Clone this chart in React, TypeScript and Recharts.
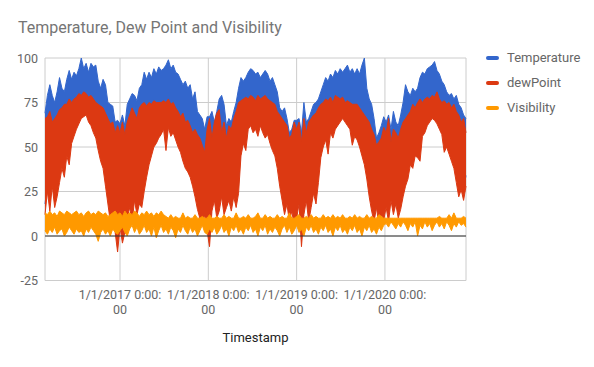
import { Area, CartesianGrid, ComposedChart, ReferenceLine, XAxis, YAxis } from "recharts";

// one sample every 10 days, starting 26 Feb 2016
const START = Date.UTC(2016, 1, 26);
const STEP = 10 * 24 * 3600 * 1000;

const yearTicks = [Date.UTC(2017, 0, 1), Date.UTC(2018, 0, 1), Date.UTC(2019, 0, 1), Date.UTC(2020, 0, 1)];
const yTicks = [-25, 0, 25, 50, 75, 100];

const tempHigh = [
  69, 79, 85, 79, 75, 81, 89, 83, 81, 88,
  93, 88, 92, 90, 94, 100, 94, 97, 92, 97,
  95, 96, 87, 83, 88, 85, 75, 74, 73, 64,
  65, 63, 68, 62, 74, 77, 80, 79, 76, 83,
  85, 92, 88, 92, 89, 94, 91, 95, 93, 94,
  96, 99, 94, 96, 92, 91, 88, 85, 87, 83,
  85, 77, 81, 70, 68, 66, 60, 67, 67, 70,
  64, 70, 77, 79, 74, 62, 66, 64, 70, 75,
  83, 89, 87, 89, 92, 94, 93, 91, 92, 89,
  91, 93, 91, 87, 89, 85, 81, 72, 70, 72,
  66, 58, 60, 65, 65, 66, 58, 75, 64, 66,
  70, 74, 75, 77, 81, 85, 89, 87, 91, 89,
  93, 91, 94, 92, 94, 96, 92, 94, 91, 94,
  91, 96, 100, 83, 77, 74, 66, 55, 58, 62,
  67, 64, 68, 60, 70, 64, 62, 68, 75, 85,
  81, 79, 83, 81, 83, 89, 92, 91, 94, 95,
  96, 98, 93, 91, 87, 85, 81, 79, 80, 77,
  79, 74, 72, 68, 66,
];

const tempLow = [
  18, 30, 20, 34, 22, 28, 36, 44, 40, 50,
  46, 57, 62, 65, 68, 70, 72, 72, 69, 67,
  63, 60, 54, 48, 44, 34, 24, 14, 18, 8,
  -3, 11, 2, 8, 16, 22, 14, 26, 18, 24,
  22, 31, 39, 46, 51, 55, 57, 60, 62, 65,
  54, 66, 61, 63, 59, 55, 52, 48, 44, 42,
  39, 34, 28, 21, 16, 12, 18, 9, 0, 20,
  26, 16, 20, 28, 18, 22, 26, 20, 28, 22,
  30, 51, 57, 54, 65, 67, 63, 65, 61, 67,
  63, 60, 62, 57, 53, 50, 44, 34, 26, 18,
  24, 14, 20, 12, 16, 24, 0, 18, 26, 14,
  22, 30, 24, 36, 50, 55, 59, 52, 63, 60,
  65, 67, 69, 71, 69, 67, 65, 57, 61, 59,
  55, 50, 46, 38, 28, 20, 14, 22, 12, 18,
  15, 22, 14, 26, 18, 24, 16, 21, 28, 34,
  38, 46, 44, 51, 50, 48, 61, 63, 67, 69,
  71, 70, 68, 65, 62, 53, 56, 52, 48, 44,
  36, 28, 32, 26, 34,
];

const dewHigh = [
  66, 67, 70, 64, 66, 68, 71, 72, 74, 74,
  77, 75, 77, 78, 80, 79, 81, 80, 78, 79,
  77, 75, 74, 73, 72, 69, 66, 63, 64, 58,
  62, 58, 64, 57, 64, 68, 72, 69, 66, 72,
  74, 75, 73, 75, 74, 76, 75, 75, 75, 76,
  75, 77, 74, 75, 72, 70, 67, 69, 64, 65,
  62, 58, 60, 57, 55, 51, 47, 60, 66, 55,
  64, 69, 71, 58, 64, 55, 62, 60, 66, 70,
  75, 76, 77, 78, 77, 79, 78, 76, 79, 77,
  78, 79, 77, 76, 75, 74, 70, 68, 66, 64,
  62, 55, 57, 64, 60, 64, 53, 66, 58, 64,
  66, 68, 69, 72, 74, 75, 77, 76, 78, 75,
  79, 78, 77, 78, 75, 76, 75, 74, 74, 74,
  72, 70, 68, 66, 64, 60, 57, 51, 53, 55,
  61, 58, 66, 53, 60, 58, 55, 60, 64, 66,
  68, 70, 74, 72, 75, 77, 75, 77, 78, 77,
  79, 78, 81, 77, 75, 76, 74, 75, 72, 74,
  70, 68, 64, 66, 58,
];

const dewLow = [
  12, 25, 14, 28, 16, 22, 30, 38, 33, 45,
  40, 52, 56, 60, 63, 66, 67, 68, 64, 62,
  58, 55, 48, 42, 38, 28, 18, 8, 12, 2,
  -9, 5, -4, 2, 10, 16, 8, 20, 12, 18,
  16, 25, 33, 40, 45, 50, 52, 55, 57, 60,
  48, 61, 56, 58, 54, 50, 47, 42, 38, 36,
  33, 28, 22, 15, 10, 6, 12, 3, -6, 14,
  20, 10, 14, 22, 12, 16, 20, 14, 22, 16,
  24, 45, 52, 48, 60, 62, 58, 60, 56, 62,
  58, 55, 57, 52, 48, 45, 38, 28, 20, 12,
  18, 8, 14, 6, 10, 18, -6, 12, 20, 8,
  16, 24, 18, 30, 44, 50, 54, 46, 58, 55,
  60, 62, 64, 66, 64, 62, 60, 51, 56, 54,
  50, 45, 40, 32, 22, 14, 8, 16, 6, 12,
  9, 16, 8, 20, 12, 18, 10, 15, 22, 28,
  32, 40, 38, 45, 44, 42, 56, 58, 62, 64,
  66, 65, 63, 60, 57, 47, 50, 46, 42, 38,
  30, 22, 26, 20, 28,
];

const visHigh = [
  13, 12, 14, 12, 13, 11, 14, 13, 12, 14,
  13, 12, 13, 14, 12, 13, 11, 13, 14, 12,
  13, 12, 14, 13, 12, 13, 11, 12, 13, 14,
  12, 13, 11, 14, 12, 13, 12, 14, 13, 11,
  13, 12, 14, 12, 13, 11, 13, 12, 14, 12,
  11, 10, 12, 10, 11, 10, 10, 13, 10, 11,
  10, 10, 12, 10, 10, 11, 10, 10, 12, 10,
  10, 11, 10, 10, 12, 10, 11, 10, 10, 13,
  10, 10, 11, 10, 12, 10, 10, 11, 13, 10,
  10, 12, 10, 11, 10, 10, 12, 10, 11, 10,
  10, 13, 10, 10, 11, 12, 10, 10, 11, 10,
  12, 10, 11, 10, 10, 12, 10, 11, 10, 12,
  10, 11, 10, 12, 10, 10, 11, 10, 12, 10,
  11, 10, 10, 12, 10, 11, 10, 10, 12, 11,
  10, 10, 10, 10, 10, 10, 10, 10, 10, 10,
  10, 10, 10, 10, 10, 10, 10, 10, 10, 10,
  10, 10, 10, 11, 10, 10, 10, 12, 10, 13,
  10, 10, 10, 11, 10,
];

const visLow = [
  3, 1, 4, 2, 5, 1, 3, 4, 0, 2,
  5, 3, 1, 4, 2, 3, 0, 4, 2, 5,
  3, 1, -3, 2, 4, 1, 3, 0, 4, 2,
  1, 3, 5, 2, 0, 4, 6, 2, 5, 1,
  3, 6, 2, 4, 0, 5, -1, 3, 6, 2,
  4, 1, 5, 3, -1, 4, 2, 6, 3, 1,
  5, 2, 4, 0, 3, 6, 2, 1, 4, 2,
  5, 1, 3, 6, 2, 4, 0, 5, 3, 6,
  2, 4, 1, 5, 3, 6, 2, 4, 0, 5,
  3, 6, 1, 4, 2, 5, 3, 0, 4, 6,
  2, 5, 1, 3, 6, 2, 4, 0, 5, 3,
  6, 2, 4, 1, 5, 3, 6, 2, 4, 0,
  5, 3, 6, 2, 4, 1, 5, 3, 6, 2,
  4, 0, 5, 3, 6, 2, 4, 1, 5, 3,
  6, 7, 5, 8, 6, 4, 7, 5, 8, 6,
  3, 7, 5, 8, 0, 6, 4, 8, 5, 7,
  3, 6, 8, 5, 7, 4, 8, 6, 3, 7,
  5, 8, 6, 7, 5,
];

const series = [
  { key: "temp", name: "Temperature", color: "#3366cc" },
  { key: "dew", name: "dewPoint", color: "#dc3912" },
  { key: "vis", name: "Visibility", color: "#ff9900" },
];

const rows = tempHigh.map((_, i) => ({
  t: START + i * STEP,
  temp: [tempLow[i], tempHigh[i]],
  dew: [dewLow[i], dewHigh[i]],
  vis: [visLow[i], visHigh[i]],
}));

const FONT = "Roboto, Arial, sans-serif";

const XTick = ({ x, y, payload }: any) => {
  const d = new Date(payload.value);
  const label = `${d.getUTCMonth() + 1}/${d.getUTCDate()}/${d.getUTCFullYear()} 0:00:`;
  return (
    <text x={x} y={y} textAnchor="middle" fill="#666" fontSize={12.5} fontFamily={FONT}>
      <tspan x={x} y={298.5}>{label}</tspan>
      <tspan x={x} y={313.5}>00</tspan>
    </text>
  );
};

const YTick = ({ y, payload }: any) => (
  <text x={38} y={y + 4.5} textAnchor="end" fill="#666" fontSize={12.5} fontFamily={FONT}>
    {payload.value}
  </text>
);

export default function App() {
  return (
    <div style={{ position: "absolute", left: 0, top: 0, width: 594, height: 367, background: "#fff", fontFamily: FONT }}>
      <div style={{ position: "absolute", left: 18, top: 18, fontSize: 16, color: "#757575", whiteSpace: "nowrap" }}>
        Temperature, Dew Point and Visibility
      </div>
      <ComposedChart width={594} height={367} data={rows} margin={{ top: 58, right: 128, bottom: 46.5, left: 0 }}>
        <CartesianGrid stroke="#cccccc" />
        <XAxis
          dataKey="t"
          type="number"
          domain={[START, START + 174 * STEP]}
          ticks={yearTicks}
          tick={<XTick />}
          axisLine={false}
          tickLine={false}
          height={40}
          interval={0}
        />
        <YAxis domain={[-25, 100]} ticks={yTicks} tick={<YTick />} axisLine={false} tickLine={false} width={45} interval={0} />
        <ReferenceLine y={0} stroke="#333" strokeWidth={1} />
        {series.map((s) => (
          <Area
            key={s.key}
            type="linear"
            dataKey={s.key}
            name={s.name}
            stroke={s.color}
            strokeWidth={1}
            fill={s.color}
            fillOpacity={1}
            dot={false}
            activeDot={false}
            isAnimationActive={false}
          />
        ))}
      </ComposedChart>
      <div style={{ position: "absolute", left: 0, top: 330, width: 511, textAlign: "center", fontSize: 13, color: "#222" }}>
        Timestamp
      </div>
      <div style={{ position: "absolute", left: 486, top: 45 }}>
        {series.map((s) => (
          <div key={s.key} style={{ display: "flex", alignItems: "center", height: 25, fontSize: 13, color: "#666" }}>
            <span style={{ display: "inline-block", width: 13, height: 4, borderRadius: 2, background: s.color, marginRight: 8 }} />
            {s.name}
          </div>
        ))}
      </div>
    </div>
  );
}
